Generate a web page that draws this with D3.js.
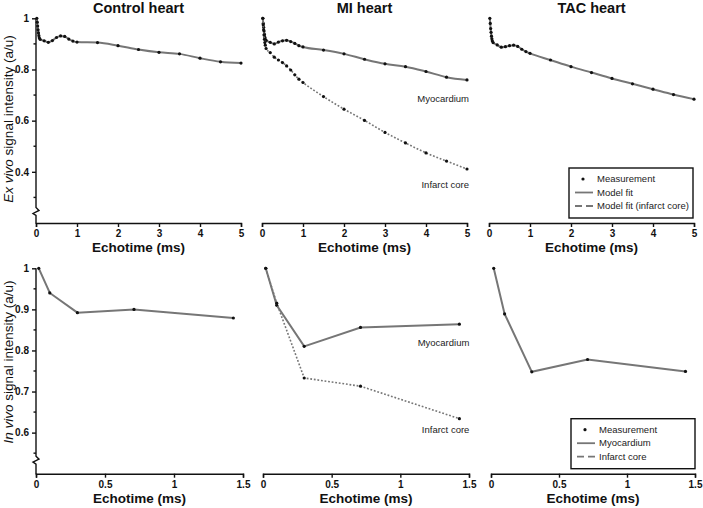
<!DOCTYPE html>
<html>
<head>
<meta charset="utf-8">
<script src="https://cdn.jsdelivr.net/npm/d3@7"></script>
<style>
  body { margin: 0; background: #fff; }
  svg { font-family: Arial, "Liberation Sans", sans-serif; }
  .tick text { font-size: 10px; font-weight: bold; fill: #111; }
  .axis path, .axis line { stroke: #111; stroke-width: 1.4; }
</style>
</head>
<body>
<svg id="chart" width="703" height="508"></svg>
<script>
// ex vivo echotimes (ms)
const exTimes = [0.02, 0.03, 0.04, 0.05, 0.06, 0.07, 0.08, 0.1, 0.2, 0.3, 0.4, 0.5, 0.6, 0.7, 0.8, 0.9, 1.0, 1.5, 2, 2.5, 3, 3.5, 4, 4.5, 5];
const ctrlEx   = [1.0, 0.985, 0.97, 0.955, 0.943, 0.932, 0.924, 0.918, 0.912, 0.906, 0.913, 0.925, 0.931, 0.929, 0.919, 0.911, 0.907, 0.905, 0.893, 0.878, 0.867, 0.861, 0.844, 0.830, 0.825];
const miMyoEx  = [1.0, 0.98, 0.965, 0.95, 0.937, 0.926, 0.918, 0.914, 0.906, 0.900, 0.907, 0.912, 0.914, 0.909, 0.902, 0.893, 0.888, 0.876, 0.861, 0.840, 0.822, 0.811, 0.792, 0.770, 0.759];
const miInfEx  = [1.0, 0.975, 0.955, 0.935, 0.918, 0.905, 0.895, 0.882, 0.866, 0.848, 0.837, 0.827, 0.814, 0.798, 0.779, 0.762, 0.749, 0.694, 0.645, 0.601, 0.554, 0.513, 0.474, 0.442, 0.411];
const tacEx    = [1.0, 0.98, 0.96, 0.945, 0.93, 0.92, 0.912, 0.905, 0.896, 0.887, 0.889, 0.893, 0.895, 0.890, 0.879, 0.870, 0.863, 0.837, 0.811, 0.788, 0.765, 0.744, 0.723, 0.702, 0.684];

// in vivo echotimes (ms)
const inTimes  = [0.02, 0.1, 0.3, 0.71, 1.43];
const ctrlIn   = [1.0, 0.94, 0.892, 0.9, 0.879];
const miMyoIn  = [1.0, 0.91, 0.81, 0.856, 0.864];
const miInfIn  = [1.0, 0.915, 0.733, 0.713, 0.634];
const tacIn    = [1.0, 0.889, 0.748, 0.778, 0.749];

const titles = ["Control heart", "MI heart", "TAC heart"];
const exYTicks = [0.4, 0.6, 0.8, 1];
const exYMinor = [0.3, 0.5, 0.7, 0.9];
const inYTicks = [0.6, 0.7, 0.8, 0.9, 1];
const inYMinor = [0.55, 0.65, 0.75, 0.85, 0.95];
const exXTicks = [0, 1, 2, 3, 4, 5];
const inXTicks = [0, 0.5, 1, 1.5];
const exLegend = ["Measurement", "Model fit", "Model fit (infarct core)"];
const inLegend = ["Measurement", "Myocardium", "Infarct core"];

const svg = d3.select("#chart");
const grey = "#767676";

const rows = [
  { yDomain: [0.2, 1], yRange: [223, 18.3], xDomain: [0, 5],
    xRanges: [[36, 241], [262, 467], [489, 694]], ticks: exXTicks,
    yTicks: exYTicks, yMinor: exYMinor, breakAt: 0.245, curve: d3.curveMonotoneX,
    labelY: 252, ylabMid: 119, ylab: ["Ex vivo", " signal intensity (a/u)"], legend: exLegend,
    panels: [
      [{ t: exTimes, v: ctrlEx, dotted: false }],
      [{ t: exTimes, v: miMyoEx, dotted: false, label: "Myocardium" }, { t: exTimes, v: miInfEx, dotted: true, label: "Infarct core" }],
      [{ t: exTimes, v: tacEx, dotted: false }]
    ] },
  { yDomain: [0.5, 1], yRange: [473.7, 268.3], xDomain: [0, 1.5],
    xRanges: [[36, 243], [263, 469], [491, 695]], ticks: inXTicks,
    yTicks: inYTicks, yMinor: inYMinor, breakAt: 0.533, curve: d3.curveLinear,
    labelY: 503, ylabMid: 362, ylab: ["In vivo", " signal intensity (a/u)"], legend: inLegend,
    panels: [
      [{ t: inTimes, v: ctrlIn, dotted: false }],
      [{ t: inTimes, v: miMyoIn, dotted: false, label: "Myocardium" }, { t: inTimes, v: miInfIn, dotted: true, label: "Infarct core" }],
      [{ t: inTimes, v: tacIn, dotted: false }]
    ] }
];

rows.forEach((row, ri) => {
  const y = d3.scaleLinear().domain(row.yDomain).range(row.yRange);
  const baseY = y(row.yDomain[0]);

  row.panels.forEach((series, ci) => {
    const x = d3.scaleLinear().domain(row.xDomain).range(row.xRanges[ci]);
    const g = svg.append("g");
    const midX = (row.xRanges[ci][0] + row.xRanges[ci][1]) / 2;

    // x axis
    g.append("g").attr("class", "axis")
      .attr("transform", `translate(0,${baseY})`)
      .call(d3.axisBottom(x).tickValues(row.ticks).tickFormat(d3.format("~g")).tickSizeOuter(0).tickSize(4).tickPadding(3));

    g.append("text")
      .attr("x", midX).attr("y", row.labelY)
      .attr("text-anchor", "middle")
      .attr("font-size", 13.5).attr("font-weight", "bold").attr("fill", "#111")
      .text("Echotime (ms)");

    if (ri === 0) {
      g.append("text")
        .attr("x", midX).attr("y", 13)
        .attr("text-anchor", "middle")
        .attr("font-size", 14.5).attr("font-weight", "bold").attr("fill", "#111")
        .text(titles[ci]);
    }

    // y axis only on the first column, with a break near the bottom
    if (ci === 0) {
      const ya = g.append("g").attr("class", "axis")
        .attr("transform", `translate(${x(0)},0)`)
        .call(d3.axisLeft(y).tickValues(row.yTicks).tickFormat(d3.format("~g")).tickSize(4).tickPadding(3));
      ya.select(".domain").remove();
      ya.selectAll(".minor").data(row.yMinor).enter().append("line")
        .attr("x1", -2.5).attr("x2", 0)
        .attr("y1", d => y(d)).attr("y2", d => y(d));
      const b = y(row.breakAt);
      ya.append("path")
        .attr("fill", "none").attr("stroke", "#111").attr("stroke-width", 1.4)
        .attr("d", `M0,${y(1)}V${b - 4}L3,${b - 1}L-3,${b + 2}L0,${b + 4}V${baseY + 0.7}`);

      const yl = g.append("text")
        .attr("transform", `translate(13,${row.ylabMid}) rotate(-90)`)
        .attr("text-anchor", "middle")
        .attr("font-size", 13.5).attr("fill", "#111");
      yl.append("tspan").attr("font-style", "italic").text(row.ylab[0]);
      yl.append("tspan").text(row.ylab[1]);
    }

    series.forEach(s => {
      const pts = s.t.map((t, i) => [t, s.v[i]]);
      const line = d3.line().x(d => x(d[0])).y(d => y(d[1])).curve(row.curve);
      g.append("path")
        .attr("d", line(pts))
        .attr("fill", "none")
        .attr("stroke", grey)
        .attr("stroke-width", s.dotted ? 1.6 : 2)
        .attr("stroke-dasharray", s.dotted ? "1.8,1.8" : null);
      g.selectAll(null).data(pts).enter().append("circle")
        .attr("cx", d => x(d[0])).attr("cy", d => y(d[1]))
        .attr("r", 1.6).attr("fill", "#111");
      if (s.label) {
        const last = pts[pts.length - 1];
        g.append("text")
          .attr("x", x(last[0]) + (ri === 0 ? 2 : 10))
          .attr("y", y(last[1]) + (s.dotted ? (ri === 0 ? 19 : 14) : 22))
          .attr("text-anchor", "end")
          .attr("font-size", 9.5).attr("fill", "#222")
          .text(s.label);
      }
    });

    // legend in the last column
    if (ci === 2) {
      const lx = row.xRanges[2][0] + 80, ly = baseY - 55;
      const lg = g.append("g").attr("transform", `translate(${lx},${ly})`);
      lg.append("rect").attr("width", 124).attr("height", 50)
        .attr("fill", "#fff").attr("stroke", "#111").attr("stroke-width", 1.4);
      row.legend.forEach((name, i) => {
        const cy = 11 + i * 13.5;
        if (i === 0) {
          lg.append("circle").attr("cx", 14).attr("cy", cy).attr("r", 1.6).attr("fill", "#111");
        } else {
          lg.append("line").attr("x1", 6).attr("x2", 24).attr("y1", cy).attr("y2", cy)
            .attr("stroke", grey).attr("stroke-width", 1.8)
            .attr("stroke-dasharray", i === 2 ? "7,4" : null);
        }
        lg.append("text").attr("x", 28).attr("y", cy + 3.3)
          .attr("font-size", 9.5).attr("fill", "#222").text(name);
      });
    }
  });
});
</script>
</body>
</html>
